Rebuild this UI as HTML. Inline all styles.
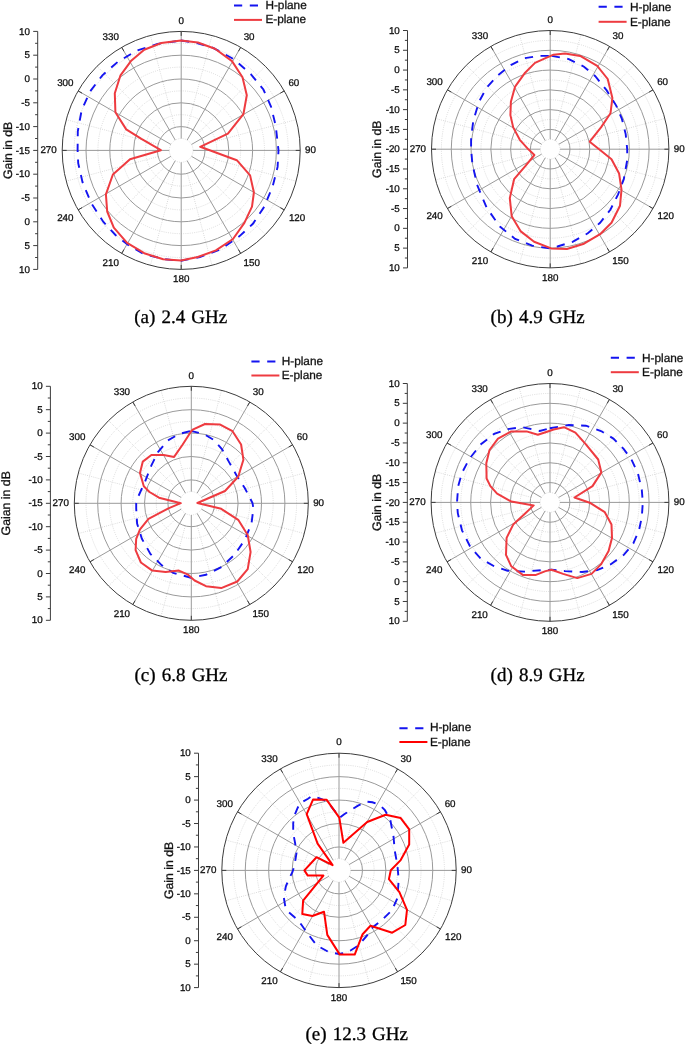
<!DOCTYPE html>
<html><head><meta charset="utf-8"><style>
html,body{margin:0;padding:0;background:#fff;}
svg{display:block;filter:blur(0.35px);text-rendering:geometricPrecision;}
.t{font-family:"Liberation Sans",sans-serif;font-size:9.8px;fill:#111111;stroke:#111111;stroke-width:0.3px;}
.yl{font-family:"Liberation Sans",sans-serif;font-size:12.3px;fill:#111111;stroke:#111111;stroke-width:0.3px;}
.lg{font-family:"Liberation Sans",sans-serif;font-size:11.8px;fill:#111111;stroke:#111111;stroke-width:0.3px;}
.cap{font-family:"Liberation Serif",serif;font-size:19px;fill:#000;stroke:#000;stroke-width:0.3px;word-spacing:1.4px;}
</style></head><body>
<svg width="685" height="1044" viewBox="0 0 685 1044" fill="none" stroke-width="1">
<g fill="none">
<circle cx="181.2" cy="150.4" r="11.9" stroke="#dadada" stroke-dasharray="1 1.2"/>
<circle cx="181.2" cy="150.4" r="35.7" stroke="#dadada" stroke-dasharray="1 1.2"/>
<circle cx="181.2" cy="150.4" r="59.5" stroke="#dadada" stroke-dasharray="1 1.2"/>
<circle cx="181.2" cy="150.4" r="83.3" stroke="#dadada" stroke-dasharray="1 1.2"/>
<circle cx="181.2" cy="150.4" r="107.1" stroke="#dadada" stroke-dasharray="1 1.2"/>
<line x1="187.36" y1="127.41" x2="212" y2="35.45" stroke="#dadada" stroke-dasharray="1 1.2"/>
<line x1="198.03" y1="133.57" x2="265.35" y2="66.25" stroke="#dadada" stroke-dasharray="1 1.2"/>
<line x1="204.19" y1="144.24" x2="296.15" y2="119.6" stroke="#dadada" stroke-dasharray="1 1.2"/>
<line x1="204.19" y1="156.56" x2="296.15" y2="181.2" stroke="#dadada" stroke-dasharray="1 1.2"/>
<line x1="198.03" y1="167.23" x2="265.35" y2="234.55" stroke="#dadada" stroke-dasharray="1 1.2"/>
<line x1="187.36" y1="173.39" x2="212" y2="265.35" stroke="#dadada" stroke-dasharray="1 1.2"/>
<line x1="175.04" y1="173.39" x2="150.4" y2="265.35" stroke="#dadada" stroke-dasharray="1 1.2"/>
<line x1="164.37" y1="167.23" x2="97.05" y2="234.55" stroke="#dadada" stroke-dasharray="1 1.2"/>
<line x1="158.21" y1="156.56" x2="66.25" y2="181.2" stroke="#dadada" stroke-dasharray="1 1.2"/>
<line x1="158.21" y1="144.24" x2="66.25" y2="119.6" stroke="#dadada" stroke-dasharray="1 1.2"/>
<line x1="164.37" y1="133.57" x2="97.05" y2="66.25" stroke="#dadada" stroke-dasharray="1 1.2"/>
<line x1="175.04" y1="127.41" x2="150.4" y2="35.45" stroke="#dadada" stroke-dasharray="1 1.2"/>
<circle cx="181.2" cy="150.4" r="23.8" stroke="#9a9a9a"/>
<circle cx="181.2" cy="150.4" r="47.6" stroke="#9a9a9a"/>
<circle cx="181.2" cy="150.4" r="71.4" stroke="#9a9a9a"/>
<circle cx="181.2" cy="150.4" r="95.2" stroke="#9a9a9a"/>
<line x1="181.2" y1="138.5" x2="181.2" y2="31.4" stroke="#9a9a9a"/>
<line x1="181.2" y1="35.9" x2="181.2" y2="31.4" stroke="#3c3c3c"/>
<line x1="187.15" y1="140.09" x2="240.7" y2="47.34" stroke="#9a9a9a"/>
<line x1="238.45" y1="51.24" x2="240.7" y2="47.34" stroke="#3c3c3c"/>
<line x1="191.51" y1="144.45" x2="284.26" y2="90.9" stroke="#9a9a9a"/>
<line x1="280.36" y1="93.15" x2="284.26" y2="90.9" stroke="#3c3c3c"/>
<line x1="193.1" y1="150.4" x2="300.2" y2="150.4" stroke="#9a9a9a"/>
<line x1="295.7" y1="150.4" x2="300.2" y2="150.4" stroke="#3c3c3c"/>
<line x1="191.51" y1="156.35" x2="284.26" y2="209.9" stroke="#9a9a9a"/>
<line x1="280.36" y1="207.65" x2="284.26" y2="209.9" stroke="#3c3c3c"/>
<line x1="187.15" y1="160.71" x2="240.7" y2="253.46" stroke="#9a9a9a"/>
<line x1="238.45" y1="249.56" x2="240.7" y2="253.46" stroke="#3c3c3c"/>
<line x1="181.2" y1="162.3" x2="181.2" y2="269.4" stroke="#9a9a9a"/>
<line x1="181.2" y1="264.9" x2="181.2" y2="269.4" stroke="#3c3c3c"/>
<line x1="175.25" y1="160.71" x2="121.7" y2="253.46" stroke="#9a9a9a"/>
<line x1="123.95" y1="249.56" x2="121.7" y2="253.46" stroke="#3c3c3c"/>
<line x1="170.89" y1="156.35" x2="78.14" y2="209.9" stroke="#9a9a9a"/>
<line x1="82.04" y1="207.65" x2="78.14" y2="209.9" stroke="#3c3c3c"/>
<line x1="169.3" y1="150.4" x2="62.2" y2="150.4" stroke="#9a9a9a"/>
<line x1="66.7" y1="150.4" x2="62.2" y2="150.4" stroke="#3c3c3c"/>
<line x1="170.89" y1="144.45" x2="78.14" y2="90.9" stroke="#9a9a9a"/>
<line x1="82.04" y1="93.15" x2="78.14" y2="90.9" stroke="#3c3c3c"/>
<line x1="175.25" y1="140.09" x2="121.7" y2="47.34" stroke="#9a9a9a"/>
<line x1="123.95" y1="51.24" x2="121.7" y2="47.34" stroke="#3c3c3c"/>
<circle cx="181.2" cy="150.4" r="119" stroke="#3c3c3c"/>
<text x="181.2" y="23.64" text-anchor="middle" class="t" fill="#111111">0</text>
<text x="249.1" y="40.38" text-anchor="middle" class="t" fill="#111111">30</text>
<text x="293.86" y="85.74" text-anchor="middle" class="t" fill="#111111">60</text>
<text x="310.5" y="152.94" text-anchor="middle" class="t" fill="#111111">90</text>
<text x="297.06" y="220.64" text-anchor="middle" class="t" fill="#111111">120</text>
<text x="251.7" y="265.9" text-anchor="middle" class="t" fill="#111111">150</text>
<text x="181.2" y="282.44" text-anchor="middle" class="t" fill="#111111">180</text>
<text x="110.8" y="265.9" text-anchor="middle" class="t" fill="#111111">210</text>
<text x="65.34" y="220.64" text-anchor="middle" class="t" fill="#111111">240</text>
<text x="48.6" y="152.94" text-anchor="middle" class="t" fill="#111111">270</text>
<text x="65.34" y="85.74" text-anchor="middle" class="t" fill="#111111">300</text>
<text x="110.8" y="40.38" text-anchor="middle" class="t" fill="#111111">330</text>
<line x1="37.7" y1="31.4" x2="37.7" y2="269.4" stroke="#3c3c3c"/>
<line x1="33.2" y1="31.4" x2="37.7" y2="31.4" stroke="#3c3c3c"/>
<text x="30" y="34.54" text-anchor="end" class="t" fill="#111111">10</text>
<line x1="35.1" y1="43.3" x2="37.7" y2="43.3" stroke="#3c3c3c"/>
<line x1="33.2" y1="55.2" x2="37.7" y2="55.2" stroke="#3c3c3c"/>
<text x="30" y="58.34" text-anchor="end" class="t" fill="#111111">5</text>
<line x1="35.1" y1="67.1" x2="37.7" y2="67.1" stroke="#3c3c3c"/>
<line x1="33.2" y1="79" x2="37.7" y2="79" stroke="#3c3c3c"/>
<text x="30" y="82.14" text-anchor="end" class="t" fill="#111111">0</text>
<line x1="35.1" y1="90.9" x2="37.7" y2="90.9" stroke="#3c3c3c"/>
<line x1="33.2" y1="102.8" x2="37.7" y2="102.8" stroke="#3c3c3c"/>
<text x="30" y="105.94" text-anchor="end" class="t" fill="#111111">-5</text>
<line x1="35.1" y1="114.7" x2="37.7" y2="114.7" stroke="#3c3c3c"/>
<line x1="33.2" y1="126.6" x2="37.7" y2="126.6" stroke="#3c3c3c"/>
<text x="30" y="129.74" text-anchor="end" class="t" fill="#111111">-10</text>
<line x1="35.1" y1="138.5" x2="37.7" y2="138.5" stroke="#3c3c3c"/>
<line x1="33.2" y1="150.4" x2="37.7" y2="150.4" stroke="#3c3c3c"/>
<text x="30" y="153.54" text-anchor="end" class="t" fill="#111111">-15</text>
<line x1="35.1" y1="162.3" x2="37.7" y2="162.3" stroke="#3c3c3c"/>
<line x1="33.2" y1="174.2" x2="37.7" y2="174.2" stroke="#3c3c3c"/>
<text x="30" y="177.34" text-anchor="end" class="t" fill="#111111">-10</text>
<line x1="35.1" y1="186.1" x2="37.7" y2="186.1" stroke="#3c3c3c"/>
<line x1="33.2" y1="198" x2="37.7" y2="198" stroke="#3c3c3c"/>
<text x="30" y="201.14" text-anchor="end" class="t" fill="#111111">-5</text>
<line x1="35.1" y1="209.9" x2="37.7" y2="209.9" stroke="#3c3c3c"/>
<line x1="33.2" y1="221.8" x2="37.7" y2="221.8" stroke="#3c3c3c"/>
<text x="30" y="224.94" text-anchor="end" class="t" fill="#111111">0</text>
<line x1="35.1" y1="233.7" x2="37.7" y2="233.7" stroke="#3c3c3c"/>
<line x1="33.2" y1="245.6" x2="37.7" y2="245.6" stroke="#3c3c3c"/>
<text x="30" y="248.74" text-anchor="end" class="t" fill="#111111">5</text>
<line x1="35.1" y1="257.5" x2="37.7" y2="257.5" stroke="#3c3c3c"/>
<line x1="33.2" y1="269.4" x2="37.7" y2="269.4" stroke="#3c3c3c"/>
<text x="30" y="272.54" text-anchor="end" class="t" fill="#111111">10</text>
<text transform="translate(11.5,150.4) rotate(-90)" text-anchor="middle" class="yl">Gain in dB</text>
<line x1="234" y1="5.5" x2="258" y2="5.5" stroke="#1414f0" stroke-width="2" stroke-dasharray="8.2 7.6"/>
<line x1="234" y1="19.9" x2="262" y2="19.9" stroke="#ee3b40" stroke-width="2"/>
<text x="265.4" y="9" class="lg">H-plane</text>
<text x="265.4" y="23.4" class="lg">E-plane</text>
<text x="134.2" y="323.2" class="cap">(a) 2.4 GHz</text>
<polygon points="181,40.5 197,43 213.1,47.8 233.9,59.2 251,74.3 263.4,89.5 271,106.6 275.7,125.6 278.5,150.3 277.6,166.9 272.8,185.9 264.3,206.7 252.9,223.8 239.6,236.1 220.7,249.4 199.8,257 181,260.8 165.1,259.3 144.2,254.2 129,245.6 115.7,235.2 103.4,221.9 91.1,202.9 82.5,182.1 78.2,163.1 77.6,150.4 77.8,131.3 81.6,110.4 90.1,91.4 102.4,75.3 117.6,62 136.6,50.6 157.5,44" stroke="#1414f0" stroke-width="1.9" stroke-dasharray="8.3 7.5" fill="none"/>
<polygon points="181,40.4 197.9,42.5 215,48.7 232,61.1 242.5,77.2 246.8,95.2 243.4,114.2 227.9,133.6 200.2,146.8 236.8,160.2 250.1,175.4 253.9,192.5 252,206.7 244.4,222.9 233,239 215.9,250.4 197.9,257 181,260.4 163.2,259.3 144.2,253.2 127.1,242.8 113.8,227.6 107.2,211.5 105.9,194.4 112.9,174.5 130,159.3 160.9,150.2 141.4,138.9 126.2,129.4 115.4,112.3 114.8,93.3 120.5,75.3 130.9,61.1 144.2,49.7 161.3,43" stroke="#ee3b40" stroke-width="2" fill="none" stroke-linejoin="round"/>
<circle cx="550.2" cy="149.2" r="9.89" stroke="#dadada" stroke-dasharray="1 1.2"/>
<circle cx="550.2" cy="149.2" r="29.68" stroke="#dadada" stroke-dasharray="1 1.2"/>
<circle cx="550.2" cy="149.2" r="49.46" stroke="#dadada" stroke-dasharray="1 1.2"/>
<circle cx="550.2" cy="149.2" r="69.24" stroke="#dadada" stroke-dasharray="1 1.2"/>
<circle cx="550.2" cy="149.2" r="89.03" stroke="#dadada" stroke-dasharray="1 1.2"/>
<circle cx="550.2" cy="149.2" r="108.81" stroke="#dadada" stroke-dasharray="1 1.2"/>
<line x1="555.32" y1="130.09" x2="580.92" y2="34.54" stroke="#dadada" stroke-dasharray="1 1.2"/>
<line x1="564.19" y1="135.21" x2="634.13" y2="65.27" stroke="#dadada" stroke-dasharray="1 1.2"/>
<line x1="569.31" y1="144.08" x2="664.86" y2="118.48" stroke="#dadada" stroke-dasharray="1 1.2"/>
<line x1="569.31" y1="154.32" x2="664.86" y2="179.92" stroke="#dadada" stroke-dasharray="1 1.2"/>
<line x1="564.19" y1="163.19" x2="634.13" y2="233.13" stroke="#dadada" stroke-dasharray="1 1.2"/>
<line x1="555.32" y1="168.31" x2="580.92" y2="263.86" stroke="#dadada" stroke-dasharray="1 1.2"/>
<line x1="545.08" y1="168.31" x2="519.48" y2="263.86" stroke="#dadada" stroke-dasharray="1 1.2"/>
<line x1="536.21" y1="163.19" x2="466.27" y2="233.13" stroke="#dadada" stroke-dasharray="1 1.2"/>
<line x1="531.09" y1="154.32" x2="435.54" y2="179.92" stroke="#dadada" stroke-dasharray="1 1.2"/>
<line x1="531.09" y1="144.08" x2="435.54" y2="118.48" stroke="#dadada" stroke-dasharray="1 1.2"/>
<line x1="536.21" y1="135.21" x2="466.27" y2="65.27" stroke="#dadada" stroke-dasharray="1 1.2"/>
<line x1="545.08" y1="130.09" x2="519.48" y2="34.54" stroke="#dadada" stroke-dasharray="1 1.2"/>
<circle cx="550.2" cy="149.2" r="19.78" stroke="#9a9a9a"/>
<circle cx="550.2" cy="149.2" r="39.57" stroke="#9a9a9a"/>
<circle cx="550.2" cy="149.2" r="59.35" stroke="#9a9a9a"/>
<circle cx="550.2" cy="149.2" r="79.13" stroke="#9a9a9a"/>
<circle cx="550.2" cy="149.2" r="98.92" stroke="#9a9a9a"/>
<line x1="550.2" y1="139.31" x2="550.2" y2="30.5" stroke="#9a9a9a"/>
<line x1="550.2" y1="35" x2="550.2" y2="30.5" stroke="#3c3c3c"/>
<line x1="555.15" y1="140.63" x2="609.55" y2="46.4" stroke="#9a9a9a"/>
<line x1="607.3" y1="50.3" x2="609.55" y2="46.4" stroke="#3c3c3c"/>
<line x1="558.77" y1="144.25" x2="653" y2="89.85" stroke="#9a9a9a"/>
<line x1="649.1" y1="92.1" x2="653" y2="89.85" stroke="#3c3c3c"/>
<line x1="560.09" y1="149.2" x2="668.9" y2="149.2" stroke="#9a9a9a"/>
<line x1="664.4" y1="149.2" x2="668.9" y2="149.2" stroke="#3c3c3c"/>
<line x1="558.77" y1="154.15" x2="653" y2="208.55" stroke="#9a9a9a"/>
<line x1="649.1" y1="206.3" x2="653" y2="208.55" stroke="#3c3c3c"/>
<line x1="555.15" y1="157.77" x2="609.55" y2="252" stroke="#9a9a9a"/>
<line x1="607.3" y1="248.1" x2="609.55" y2="252" stroke="#3c3c3c"/>
<line x1="550.2" y1="159.09" x2="550.2" y2="267.9" stroke="#9a9a9a"/>
<line x1="550.2" y1="263.4" x2="550.2" y2="267.9" stroke="#3c3c3c"/>
<line x1="545.25" y1="157.77" x2="490.85" y2="252" stroke="#9a9a9a"/>
<line x1="493.1" y1="248.1" x2="490.85" y2="252" stroke="#3c3c3c"/>
<line x1="541.63" y1="154.15" x2="447.4" y2="208.55" stroke="#9a9a9a"/>
<line x1="451.3" y1="206.3" x2="447.4" y2="208.55" stroke="#3c3c3c"/>
<line x1="540.31" y1="149.2" x2="431.5" y2="149.2" stroke="#9a9a9a"/>
<line x1="436" y1="149.2" x2="431.5" y2="149.2" stroke="#3c3c3c"/>
<line x1="541.63" y1="144.25" x2="447.4" y2="89.85" stroke="#9a9a9a"/>
<line x1="451.3" y1="92.1" x2="447.4" y2="89.85" stroke="#3c3c3c"/>
<line x1="545.25" y1="140.63" x2="490.85" y2="46.4" stroke="#9a9a9a"/>
<line x1="493.1" y1="50.3" x2="490.85" y2="46.4" stroke="#3c3c3c"/>
<circle cx="550.2" cy="149.2" r="118.7" stroke="#3c3c3c"/>
<text x="550.2" y="22.74" text-anchor="middle" class="t" fill="#111111">0</text>
<text x="617.95" y="39.44" text-anchor="middle" class="t" fill="#111111">30</text>
<text x="662.6" y="84.69" text-anchor="middle" class="t" fill="#111111">60</text>
<text x="679.2" y="151.74" text-anchor="middle" class="t" fill="#111111">90</text>
<text x="665.8" y="219.29" text-anchor="middle" class="t" fill="#111111">120</text>
<text x="620.55" y="264.44" text-anchor="middle" class="t" fill="#111111">150</text>
<text x="550.2" y="280.94" text-anchor="middle" class="t" fill="#111111">180</text>
<text x="479.95" y="264.44" text-anchor="middle" class="t" fill="#111111">210</text>
<text x="434.6" y="219.29" text-anchor="middle" class="t" fill="#111111">240</text>
<text x="417.9" y="151.74" text-anchor="middle" class="t" fill="#111111">270</text>
<text x="434.6" y="84.69" text-anchor="middle" class="t" fill="#111111">300</text>
<text x="479.95" y="39.44" text-anchor="middle" class="t" fill="#111111">330</text>
<line x1="407.5" y1="30.5" x2="407.5" y2="267.9" stroke="#3c3c3c"/>
<line x1="403" y1="30.5" x2="407.5" y2="30.5" stroke="#3c3c3c"/>
<text x="399.8" y="33.64" text-anchor="end" class="t" fill="#111111">10</text>
<line x1="404.9" y1="40.39" x2="407.5" y2="40.39" stroke="#3c3c3c"/>
<line x1="403" y1="50.28" x2="407.5" y2="50.28" stroke="#3c3c3c"/>
<text x="399.8" y="53.42" text-anchor="end" class="t" fill="#111111">5</text>
<line x1="404.9" y1="60.17" x2="407.5" y2="60.17" stroke="#3c3c3c"/>
<line x1="403" y1="70.07" x2="407.5" y2="70.07" stroke="#3c3c3c"/>
<text x="399.8" y="73.21" text-anchor="end" class="t" fill="#111111">0</text>
<line x1="404.9" y1="79.96" x2="407.5" y2="79.96" stroke="#3c3c3c"/>
<line x1="403" y1="89.85" x2="407.5" y2="89.85" stroke="#3c3c3c"/>
<text x="399.8" y="92.99" text-anchor="end" class="t" fill="#111111">-5</text>
<line x1="404.9" y1="99.74" x2="407.5" y2="99.74" stroke="#3c3c3c"/>
<line x1="403" y1="109.63" x2="407.5" y2="109.63" stroke="#3c3c3c"/>
<text x="399.8" y="112.77" text-anchor="end" class="t" fill="#111111">-10</text>
<line x1="404.9" y1="119.52" x2="407.5" y2="119.52" stroke="#3c3c3c"/>
<line x1="403" y1="129.42" x2="407.5" y2="129.42" stroke="#3c3c3c"/>
<text x="399.8" y="132.56" text-anchor="end" class="t" fill="#111111">-15</text>
<line x1="404.9" y1="139.31" x2="407.5" y2="139.31" stroke="#3c3c3c"/>
<line x1="403" y1="149.2" x2="407.5" y2="149.2" stroke="#3c3c3c"/>
<text x="399.8" y="152.34" text-anchor="end" class="t" fill="#111111">-20</text>
<line x1="404.9" y1="159.09" x2="407.5" y2="159.09" stroke="#3c3c3c"/>
<line x1="403" y1="168.98" x2="407.5" y2="168.98" stroke="#3c3c3c"/>
<text x="399.8" y="172.12" text-anchor="end" class="t" fill="#111111">-15</text>
<line x1="404.9" y1="178.88" x2="407.5" y2="178.88" stroke="#3c3c3c"/>
<line x1="403" y1="188.77" x2="407.5" y2="188.77" stroke="#3c3c3c"/>
<text x="399.8" y="191.91" text-anchor="end" class="t" fill="#111111">-10</text>
<line x1="404.9" y1="198.66" x2="407.5" y2="198.66" stroke="#3c3c3c"/>
<line x1="403" y1="208.55" x2="407.5" y2="208.55" stroke="#3c3c3c"/>
<text x="399.8" y="211.69" text-anchor="end" class="t" fill="#111111">-5</text>
<line x1="404.9" y1="218.44" x2="407.5" y2="218.44" stroke="#3c3c3c"/>
<line x1="403" y1="228.33" x2="407.5" y2="228.33" stroke="#3c3c3c"/>
<text x="399.8" y="231.47" text-anchor="end" class="t" fill="#111111">0</text>
<line x1="404.9" y1="238.23" x2="407.5" y2="238.23" stroke="#3c3c3c"/>
<line x1="403" y1="248.12" x2="407.5" y2="248.12" stroke="#3c3c3c"/>
<text x="399.8" y="251.26" text-anchor="end" class="t" fill="#111111">5</text>
<line x1="404.9" y1="258.01" x2="407.5" y2="258.01" stroke="#3c3c3c"/>
<line x1="403" y1="267.9" x2="407.5" y2="267.9" stroke="#3c3c3c"/>
<text x="399.8" y="271.04" text-anchor="end" class="t" fill="#111111">10</text>
<text transform="translate(380.8,149.2) rotate(-90)" text-anchor="middle" class="yl">Gain in dB</text>
<line x1="598.6" y1="6.7" x2="622.6" y2="6.7" stroke="#1414f0" stroke-width="2" stroke-dasharray="8.2 7.6"/>
<line x1="598.6" y1="21.8" x2="626.6" y2="21.8" stroke="#ee3b40" stroke-width="2"/>
<text x="630" y="11.1" class="lg">H-plane</text>
<text x="630" y="25.7" class="lg">E-plane</text>
<text x="490.6" y="323.3" class="cap">(b) 4.9 GHz</text>
<polygon points="551.7,55.9 568.8,59.1 584,66.7 595.3,76.2 606.7,90.4 616.2,105.6 621.9,118.9 625.7,134.1 627.2,149.3 627.2,160.2 623.8,179.2 618.1,194.3 610.5,209.5 600.1,222.8 587.8,233.3 572.6,241.8 557.4,246.5 549.3,248.4 532.2,245.6 515.1,238.9 499.9,226.6 486.6,207.6 477.1,184.9 472.4,164 471.1,149.3 471.1,137.9 473.3,120.8 479,101.8 486.6,87.6 498,75.2 511.3,64.8 524.6,58.2 539.8,55.9" stroke="#1414f0" stroke-width="1.9" stroke-dasharray="8.3 7.5" fill="none"/>
<polygon points="553.6,54.7 565,53.4 580.2,55.9 597.2,65.8 607.7,79 612.4,98 610.5,113.2 601,127.4 589.7,141.7 601,150.7 611.5,159.2 619.1,173.5 621.5,189.6 620,205.7 611.5,222.8 600.1,234.2 584,243.7 566.9,249 551.2,248.4 534.1,241.8 520.8,231.4 511.7,216.2 509.8,198.1 514.1,179.2 525.5,165.9 534.4,155 528.4,149.3 519.8,139.8 513.2,127.4 510.4,115.1 510.9,101.8 515.1,86.6 524.6,73.3 535,62.9 545.5,58.2" stroke="#ee3b40" stroke-width="2" fill="none" stroke-linejoin="round"/>
<circle cx="191.3" cy="503.3" r="11.7" stroke="#dadada" stroke-dasharray="1 1.2"/>
<circle cx="191.3" cy="503.3" r="35.1" stroke="#dadada" stroke-dasharray="1 1.2"/>
<circle cx="191.3" cy="503.3" r="58.5" stroke="#dadada" stroke-dasharray="1 1.2"/>
<circle cx="191.3" cy="503.3" r="81.9" stroke="#dadada" stroke-dasharray="1 1.2"/>
<circle cx="191.3" cy="503.3" r="105.3" stroke="#dadada" stroke-dasharray="1 1.2"/>
<line x1="197.36" y1="480.7" x2="221.58" y2="390.29" stroke="#dadada" stroke-dasharray="1 1.2"/>
<line x1="207.85" y1="486.75" x2="274.03" y2="420.57" stroke="#dadada" stroke-dasharray="1 1.2"/>
<line x1="213.9" y1="497.24" x2="304.31" y2="473.02" stroke="#dadada" stroke-dasharray="1 1.2"/>
<line x1="213.9" y1="509.36" x2="304.31" y2="533.58" stroke="#dadada" stroke-dasharray="1 1.2"/>
<line x1="207.85" y1="519.85" x2="274.03" y2="586.03" stroke="#dadada" stroke-dasharray="1 1.2"/>
<line x1="197.36" y1="525.9" x2="221.58" y2="616.31" stroke="#dadada" stroke-dasharray="1 1.2"/>
<line x1="185.24" y1="525.9" x2="161.02" y2="616.31" stroke="#dadada" stroke-dasharray="1 1.2"/>
<line x1="174.75" y1="519.85" x2="108.57" y2="586.03" stroke="#dadada" stroke-dasharray="1 1.2"/>
<line x1="168.7" y1="509.36" x2="78.29" y2="533.58" stroke="#dadada" stroke-dasharray="1 1.2"/>
<line x1="168.7" y1="497.24" x2="78.29" y2="473.02" stroke="#dadada" stroke-dasharray="1 1.2"/>
<line x1="174.75" y1="486.75" x2="108.57" y2="420.57" stroke="#dadada" stroke-dasharray="1 1.2"/>
<line x1="185.24" y1="480.7" x2="161.02" y2="390.29" stroke="#dadada" stroke-dasharray="1 1.2"/>
<circle cx="191.3" cy="503.3" r="23.4" stroke="#9a9a9a"/>
<circle cx="191.3" cy="503.3" r="46.8" stroke="#9a9a9a"/>
<circle cx="191.3" cy="503.3" r="70.2" stroke="#9a9a9a"/>
<circle cx="191.3" cy="503.3" r="93.6" stroke="#9a9a9a"/>
<line x1="191.3" y1="491.6" x2="191.3" y2="386.3" stroke="#9a9a9a"/>
<line x1="191.3" y1="390.8" x2="191.3" y2="386.3" stroke="#3c3c3c"/>
<line x1="197.15" y1="493.17" x2="249.8" y2="401.98" stroke="#9a9a9a"/>
<line x1="247.55" y1="405.87" x2="249.8" y2="401.98" stroke="#3c3c3c"/>
<line x1="201.43" y1="497.45" x2="292.62" y2="444.8" stroke="#9a9a9a"/>
<line x1="288.73" y1="447.05" x2="292.62" y2="444.8" stroke="#3c3c3c"/>
<line x1="203" y1="503.3" x2="308.3" y2="503.3" stroke="#9a9a9a"/>
<line x1="303.8" y1="503.3" x2="308.3" y2="503.3" stroke="#3c3c3c"/>
<line x1="201.43" y1="509.15" x2="292.62" y2="561.8" stroke="#9a9a9a"/>
<line x1="288.73" y1="559.55" x2="292.62" y2="561.8" stroke="#3c3c3c"/>
<line x1="197.15" y1="513.43" x2="249.8" y2="604.62" stroke="#9a9a9a"/>
<line x1="247.55" y1="600.73" x2="249.8" y2="604.62" stroke="#3c3c3c"/>
<line x1="191.3" y1="515" x2="191.3" y2="620.3" stroke="#9a9a9a"/>
<line x1="191.3" y1="615.8" x2="191.3" y2="620.3" stroke="#3c3c3c"/>
<line x1="185.45" y1="513.43" x2="132.8" y2="604.62" stroke="#9a9a9a"/>
<line x1="135.05" y1="600.73" x2="132.8" y2="604.62" stroke="#3c3c3c"/>
<line x1="181.17" y1="509.15" x2="89.98" y2="561.8" stroke="#9a9a9a"/>
<line x1="93.87" y1="559.55" x2="89.98" y2="561.8" stroke="#3c3c3c"/>
<line x1="179.6" y1="503.3" x2="74.3" y2="503.3" stroke="#9a9a9a"/>
<line x1="78.8" y1="503.3" x2="74.3" y2="503.3" stroke="#3c3c3c"/>
<line x1="181.17" y1="497.45" x2="89.98" y2="444.8" stroke="#9a9a9a"/>
<line x1="93.87" y1="447.05" x2="89.98" y2="444.8" stroke="#3c3c3c"/>
<line x1="185.45" y1="493.17" x2="132.8" y2="401.98" stroke="#9a9a9a"/>
<line x1="135.05" y1="405.87" x2="132.8" y2="401.98" stroke="#3c3c3c"/>
<circle cx="191.3" cy="503.3" r="117" stroke="#3c3c3c"/>
<text x="191.3" y="378.54" text-anchor="middle" class="t" fill="#111111">0</text>
<text x="258.2" y="395.02" text-anchor="middle" class="t" fill="#111111">30</text>
<text x="302.22" y="439.64" text-anchor="middle" class="t" fill="#111111">60</text>
<text x="318.6" y="505.84" text-anchor="middle" class="t" fill="#111111">90</text>
<text x="305.42" y="572.54" text-anchor="middle" class="t" fill="#111111">120</text>
<text x="260.8" y="617.06" text-anchor="middle" class="t" fill="#111111">150</text>
<text x="191.3" y="633.34" text-anchor="middle" class="t" fill="#111111">180</text>
<text x="121.9" y="617.06" text-anchor="middle" class="t" fill="#111111">210</text>
<text x="77.18" y="572.54" text-anchor="middle" class="t" fill="#111111">240</text>
<text x="60.7" y="505.84" text-anchor="middle" class="t" fill="#111111">270</text>
<text x="77.18" y="439.64" text-anchor="middle" class="t" fill="#111111">300</text>
<text x="121.9" y="395.02" text-anchor="middle" class="t" fill="#111111">330</text>
<line x1="50.4" y1="386.3" x2="50.4" y2="620.3" stroke="#3c3c3c"/>
<line x1="45.9" y1="386.3" x2="50.4" y2="386.3" stroke="#3c3c3c"/>
<text x="42.7" y="389.44" text-anchor="end" class="t" fill="#111111">10</text>
<line x1="47.8" y1="398" x2="50.4" y2="398" stroke="#3c3c3c"/>
<line x1="45.9" y1="409.7" x2="50.4" y2="409.7" stroke="#3c3c3c"/>
<text x="42.7" y="412.84" text-anchor="end" class="t" fill="#111111">5</text>
<line x1="47.8" y1="421.4" x2="50.4" y2="421.4" stroke="#3c3c3c"/>
<line x1="45.9" y1="433.1" x2="50.4" y2="433.1" stroke="#3c3c3c"/>
<text x="42.7" y="436.24" text-anchor="end" class="t" fill="#111111">0</text>
<line x1="47.8" y1="444.8" x2="50.4" y2="444.8" stroke="#3c3c3c"/>
<line x1="45.9" y1="456.5" x2="50.4" y2="456.5" stroke="#3c3c3c"/>
<text x="42.7" y="459.64" text-anchor="end" class="t" fill="#111111">-5</text>
<line x1="47.8" y1="468.2" x2="50.4" y2="468.2" stroke="#3c3c3c"/>
<line x1="45.9" y1="479.9" x2="50.4" y2="479.9" stroke="#3c3c3c"/>
<text x="42.7" y="483.04" text-anchor="end" class="t" fill="#111111">-10</text>
<line x1="47.8" y1="491.6" x2="50.4" y2="491.6" stroke="#3c3c3c"/>
<line x1="45.9" y1="503.3" x2="50.4" y2="503.3" stroke="#3c3c3c"/>
<text x="42.7" y="506.44" text-anchor="end" class="t" fill="#111111">-15</text>
<line x1="47.8" y1="515" x2="50.4" y2="515" stroke="#3c3c3c"/>
<line x1="45.9" y1="526.7" x2="50.4" y2="526.7" stroke="#3c3c3c"/>
<text x="42.7" y="529.84" text-anchor="end" class="t" fill="#111111">-10</text>
<line x1="47.8" y1="538.4" x2="50.4" y2="538.4" stroke="#3c3c3c"/>
<line x1="45.9" y1="550.1" x2="50.4" y2="550.1" stroke="#3c3c3c"/>
<text x="42.7" y="553.24" text-anchor="end" class="t" fill="#111111">-5</text>
<line x1="47.8" y1="561.8" x2="50.4" y2="561.8" stroke="#3c3c3c"/>
<line x1="45.9" y1="573.5" x2="50.4" y2="573.5" stroke="#3c3c3c"/>
<text x="42.7" y="576.64" text-anchor="end" class="t" fill="#111111">0</text>
<line x1="47.8" y1="585.2" x2="50.4" y2="585.2" stroke="#3c3c3c"/>
<line x1="45.9" y1="596.9" x2="50.4" y2="596.9" stroke="#3c3c3c"/>
<text x="42.7" y="600.04" text-anchor="end" class="t" fill="#111111">5</text>
<line x1="47.8" y1="608.6" x2="50.4" y2="608.6" stroke="#3c3c3c"/>
<line x1="45.9" y1="620.3" x2="50.4" y2="620.3" stroke="#3c3c3c"/>
<text x="42.7" y="623.44" text-anchor="end" class="t" fill="#111111">10</text>
<text transform="translate(10,503.3) rotate(-90)" text-anchor="middle" class="yl">Gaian in dB</text>
<line x1="251.4" y1="361.6" x2="275.4" y2="361.6" stroke="#1414f0" stroke-width="2" stroke-dasharray="8.2 7.6"/>
<line x1="251.4" y1="375.5" x2="279.4" y2="375.5" stroke="#ee3b40" stroke-width="2"/>
<text x="281.7" y="364.8" class="lg">H-plane</text>
<text x="281.7" y="379" class="lg">E-plane</text>
<text x="134.5" y="681.3" class="cap">(c) 6.8 GHz</text>
<polygon points="190.8,430.9 204.1,434.1 213.6,439.8 222.1,449.3 228.8,461.6 236.3,474.9 244.9,488.2 252.5,503 253.4,508.4 251.5,523.6 244.9,539.7 234.4,554.9 221.2,567.2 206,574.8 190.8,577.7 173.2,572.9 161.8,565.3 150.4,553.9 141.9,538.8 137.1,523.6 136.2,508.4 136.2,503.4 138.5,496 144.7,482.5 151.4,465.4 158,452.1 167.5,440.7 178.9,434.1" stroke="#1414f0" stroke-width="1.9" stroke-dasharray="8.3 7.5" fill="none"/>
<polygon points="192.7,429.7 205,424 220.2,424.6 232.5,431.2 241.1,444.5 243.4,459.7 238.2,476.8 225,491 197.4,503 221.2,508.8 238.2,519.8 247.7,535 250.6,552 247.7,569.1 237.3,581.5 221.2,588.1 206,586.2 194.6,580.5 187.5,574.3 178.9,570.6 165.6,572 152.3,570.6 140.9,562.5 135.6,550.1 136.2,538.8 140,529.3 148.5,518.8 168.4,508.4 180.8,503.2 159,497.7 149.5,492 143.8,486.3 140,473 142.8,461.6 151.4,455 163.7,455 174.1,456.9 182.7,444.5 191.2,431.2" stroke="#ee3b40" stroke-width="2" fill="none" stroke-linejoin="round"/>
<circle cx="550" cy="502.4" r="9.91" stroke="#dadada" stroke-dasharray="1 1.2"/>
<circle cx="550" cy="502.4" r="29.73" stroke="#dadada" stroke-dasharray="1 1.2"/>
<circle cx="550" cy="502.4" r="49.54" stroke="#dadada" stroke-dasharray="1 1.2"/>
<circle cx="550" cy="502.4" r="69.36" stroke="#dadada" stroke-dasharray="1 1.2"/>
<circle cx="550" cy="502.4" r="89.17" stroke="#dadada" stroke-dasharray="1 1.2"/>
<circle cx="550" cy="502.4" r="108.99" stroke="#dadada" stroke-dasharray="1 1.2"/>
<line x1="555.13" y1="483.26" x2="580.77" y2="387.55" stroke="#dadada" stroke-dasharray="1 1.2"/>
<line x1="564.01" y1="488.39" x2="634.07" y2="418.33" stroke="#dadada" stroke-dasharray="1 1.2"/>
<line x1="569.14" y1="497.27" x2="664.85" y2="471.63" stroke="#dadada" stroke-dasharray="1 1.2"/>
<line x1="569.14" y1="507.53" x2="664.85" y2="533.17" stroke="#dadada" stroke-dasharray="1 1.2"/>
<line x1="564.01" y1="516.41" x2="634.07" y2="586.47" stroke="#dadada" stroke-dasharray="1 1.2"/>
<line x1="555.13" y1="521.54" x2="580.77" y2="617.25" stroke="#dadada" stroke-dasharray="1 1.2"/>
<line x1="544.87" y1="521.54" x2="519.23" y2="617.25" stroke="#dadada" stroke-dasharray="1 1.2"/>
<line x1="535.99" y1="516.41" x2="465.93" y2="586.47" stroke="#dadada" stroke-dasharray="1 1.2"/>
<line x1="530.86" y1="507.53" x2="435.15" y2="533.17" stroke="#dadada" stroke-dasharray="1 1.2"/>
<line x1="530.86" y1="497.27" x2="435.15" y2="471.63" stroke="#dadada" stroke-dasharray="1 1.2"/>
<line x1="535.99" y1="488.39" x2="465.93" y2="418.33" stroke="#dadada" stroke-dasharray="1 1.2"/>
<line x1="544.87" y1="483.26" x2="519.23" y2="387.55" stroke="#dadada" stroke-dasharray="1 1.2"/>
<circle cx="550" cy="502.4" r="19.82" stroke="#9a9a9a"/>
<circle cx="550" cy="502.4" r="39.63" stroke="#9a9a9a"/>
<circle cx="550" cy="502.4" r="59.45" stroke="#9a9a9a"/>
<circle cx="550" cy="502.4" r="79.27" stroke="#9a9a9a"/>
<circle cx="550" cy="502.4" r="99.08" stroke="#9a9a9a"/>
<line x1="550" y1="492.49" x2="550" y2="383.5" stroke="#9a9a9a"/>
<line x1="550" y1="388" x2="550" y2="383.5" stroke="#3c3c3c"/>
<line x1="554.95" y1="493.82" x2="609.45" y2="399.43" stroke="#9a9a9a"/>
<line x1="607.2" y1="403.33" x2="609.45" y2="399.43" stroke="#3c3c3c"/>
<line x1="558.58" y1="497.45" x2="652.97" y2="442.95" stroke="#9a9a9a"/>
<line x1="649.07" y1="445.2" x2="652.97" y2="442.95" stroke="#3c3c3c"/>
<line x1="559.91" y1="502.4" x2="668.9" y2="502.4" stroke="#9a9a9a"/>
<line x1="664.4" y1="502.4" x2="668.9" y2="502.4" stroke="#3c3c3c"/>
<line x1="558.58" y1="507.35" x2="652.97" y2="561.85" stroke="#9a9a9a"/>
<line x1="649.07" y1="559.6" x2="652.97" y2="561.85" stroke="#3c3c3c"/>
<line x1="554.95" y1="510.98" x2="609.45" y2="605.37" stroke="#9a9a9a"/>
<line x1="607.2" y1="601.47" x2="609.45" y2="605.37" stroke="#3c3c3c"/>
<line x1="550" y1="512.31" x2="550" y2="621.3" stroke="#9a9a9a"/>
<line x1="550" y1="616.8" x2="550" y2="621.3" stroke="#3c3c3c"/>
<line x1="545.05" y1="510.98" x2="490.55" y2="605.37" stroke="#9a9a9a"/>
<line x1="492.8" y1="601.47" x2="490.55" y2="605.37" stroke="#3c3c3c"/>
<line x1="541.42" y1="507.35" x2="447.03" y2="561.85" stroke="#9a9a9a"/>
<line x1="450.93" y1="559.6" x2="447.03" y2="561.85" stroke="#3c3c3c"/>
<line x1="540.09" y1="502.4" x2="431.1" y2="502.4" stroke="#9a9a9a"/>
<line x1="435.6" y1="502.4" x2="431.1" y2="502.4" stroke="#3c3c3c"/>
<line x1="541.42" y1="497.45" x2="447.03" y2="442.95" stroke="#9a9a9a"/>
<line x1="450.93" y1="445.2" x2="447.03" y2="442.95" stroke="#3c3c3c"/>
<line x1="545.05" y1="493.82" x2="490.55" y2="399.43" stroke="#9a9a9a"/>
<line x1="492.8" y1="403.33" x2="490.55" y2="399.43" stroke="#3c3c3c"/>
<circle cx="550" cy="502.4" r="118.9" stroke="#3c3c3c"/>
<text x="550" y="375.74" text-anchor="middle" class="t" fill="#111111">0</text>
<text x="617.85" y="392.47" text-anchor="middle" class="t" fill="#111111">30</text>
<text x="662.57" y="437.79" text-anchor="middle" class="t" fill="#111111">60</text>
<text x="679.2" y="504.94" text-anchor="middle" class="t" fill="#111111">90</text>
<text x="665.77" y="572.59" text-anchor="middle" class="t" fill="#111111">120</text>
<text x="620.45" y="617.81" text-anchor="middle" class="t" fill="#111111">150</text>
<text x="550" y="634.34" text-anchor="middle" class="t" fill="#111111">180</text>
<text x="479.65" y="617.81" text-anchor="middle" class="t" fill="#111111">210</text>
<text x="434.23" y="572.59" text-anchor="middle" class="t" fill="#111111">240</text>
<text x="417.5" y="504.94" text-anchor="middle" class="t" fill="#111111">270</text>
<text x="434.23" y="437.79" text-anchor="middle" class="t" fill="#111111">300</text>
<text x="479.65" y="392.47" text-anchor="middle" class="t" fill="#111111">330</text>
<line x1="407.3" y1="383.5" x2="407.3" y2="621.3" stroke="#3c3c3c"/>
<line x1="402.8" y1="383.5" x2="407.3" y2="383.5" stroke="#3c3c3c"/>
<text x="399.6" y="386.64" text-anchor="end" class="t" fill="#111111">10</text>
<line x1="404.7" y1="393.41" x2="407.3" y2="393.41" stroke="#3c3c3c"/>
<line x1="402.8" y1="403.32" x2="407.3" y2="403.32" stroke="#3c3c3c"/>
<text x="399.6" y="406.46" text-anchor="end" class="t" fill="#111111">5</text>
<line x1="404.7" y1="413.23" x2="407.3" y2="413.23" stroke="#3c3c3c"/>
<line x1="402.8" y1="423.13" x2="407.3" y2="423.13" stroke="#3c3c3c"/>
<text x="399.6" y="426.27" text-anchor="end" class="t" fill="#111111">0</text>
<line x1="404.7" y1="433.04" x2="407.3" y2="433.04" stroke="#3c3c3c"/>
<line x1="402.8" y1="442.95" x2="407.3" y2="442.95" stroke="#3c3c3c"/>
<text x="399.6" y="446.09" text-anchor="end" class="t" fill="#111111">-5</text>
<line x1="404.7" y1="452.86" x2="407.3" y2="452.86" stroke="#3c3c3c"/>
<line x1="402.8" y1="462.77" x2="407.3" y2="462.77" stroke="#3c3c3c"/>
<text x="399.6" y="465.91" text-anchor="end" class="t" fill="#111111">-10</text>
<line x1="404.7" y1="472.68" x2="407.3" y2="472.68" stroke="#3c3c3c"/>
<line x1="402.8" y1="482.58" x2="407.3" y2="482.58" stroke="#3c3c3c"/>
<text x="399.6" y="485.72" text-anchor="end" class="t" fill="#111111">-15</text>
<line x1="404.7" y1="492.49" x2="407.3" y2="492.49" stroke="#3c3c3c"/>
<line x1="402.8" y1="502.4" x2="407.3" y2="502.4" stroke="#3c3c3c"/>
<text x="399.6" y="505.54" text-anchor="end" class="t" fill="#111111">-20</text>
<line x1="404.7" y1="512.31" x2="407.3" y2="512.31" stroke="#3c3c3c"/>
<line x1="402.8" y1="522.22" x2="407.3" y2="522.22" stroke="#3c3c3c"/>
<text x="399.6" y="525.36" text-anchor="end" class="t" fill="#111111">-15</text>
<line x1="404.7" y1="532.12" x2="407.3" y2="532.12" stroke="#3c3c3c"/>
<line x1="402.8" y1="542.03" x2="407.3" y2="542.03" stroke="#3c3c3c"/>
<text x="399.6" y="545.17" text-anchor="end" class="t" fill="#111111">-10</text>
<line x1="404.7" y1="551.94" x2="407.3" y2="551.94" stroke="#3c3c3c"/>
<line x1="402.8" y1="561.85" x2="407.3" y2="561.85" stroke="#3c3c3c"/>
<text x="399.6" y="564.99" text-anchor="end" class="t" fill="#111111">-5</text>
<line x1="404.7" y1="571.76" x2="407.3" y2="571.76" stroke="#3c3c3c"/>
<line x1="402.8" y1="581.67" x2="407.3" y2="581.67" stroke="#3c3c3c"/>
<text x="399.6" y="584.81" text-anchor="end" class="t" fill="#111111">0</text>
<line x1="404.7" y1="591.58" x2="407.3" y2="591.58" stroke="#3c3c3c"/>
<line x1="402.8" y1="601.48" x2="407.3" y2="601.48" stroke="#3c3c3c"/>
<text x="399.6" y="604.62" text-anchor="end" class="t" fill="#111111">5</text>
<line x1="404.7" y1="611.39" x2="407.3" y2="611.39" stroke="#3c3c3c"/>
<line x1="402.8" y1="621.3" x2="407.3" y2="621.3" stroke="#3c3c3c"/>
<text x="399.6" y="624.44" text-anchor="end" class="t" fill="#111111">10</text>
<text transform="translate(381.1,502.4) rotate(-90)" text-anchor="middle" class="yl">Gain in dB</text>
<line x1="610.8" y1="357.8" x2="634.8" y2="357.8" stroke="#1414f0" stroke-width="2" stroke-dasharray="8.2 7.6"/>
<line x1="610.8" y1="372.2" x2="638.8" y2="372.2" stroke="#ee3b40" stroke-width="2"/>
<text x="642.1" y="361.5" class="lg">H-plane</text>
<text x="642.1" y="376" class="lg">E-plane</text>
<text x="490.6" y="680.6" class="cap">(d) 8.9 GHz</text>
<polygon points="549.8,428.2 568.8,425 585.9,425.7 601,431 613.4,438.6 623.8,449.1 631.4,459.5 638,473.7 641.8,489.9 642.8,502.5 641.8,517 639,530.3 633.3,543.5 623.8,554.9 610.5,564.4 597.2,570.1 582.1,572 565,571.1 551.7,569.7 541.7,570.1 524.6,571.6 507.5,570.7 494.2,566.3 480.9,558.7 470.5,547.3 462,530.3 457.8,513.2 457,502.4 458.2,486.1 462,472.8 469.5,458.6 480.9,444.3 494.2,433.9 507.5,429.1 522.7,427.2 539.8,431" stroke="#1414f0" stroke-width="1.9" stroke-dasharray="8.3 7.5" fill="none"/>
<polygon points="553.6,429.5 564,427.2 575.4,432.6 585.9,444.3 598.2,459.5 601.4,472.4 592.5,486.1 574.5,497.5 589.7,502.7 604.8,512.2 611.5,524.6 612,537.9 608.6,551.1 601,564.4 591.5,573.9 577.3,578.1 563.1,573.9 551.5,569.7 545.5,571.1 536,574.9 522.7,574.9 511.3,566.3 506,554.9 506.6,537.9 513.2,524.6 524.6,514.1 533.7,505.4 511.3,501.6 497.1,493.7 490.4,486.1 486.6,478.5 486.3,463.3 489.5,450 498,438.6 511.3,431.4 526.5,431.4 537.9,434.8 549.3,431" stroke="#ee3b40" stroke-width="2" fill="none" stroke-linejoin="round"/>
<circle cx="339" cy="870.4" r="11.72" stroke="#dadada" stroke-dasharray="1 1.2"/>
<circle cx="339" cy="870.4" r="35.16" stroke="#dadada" stroke-dasharray="1 1.2"/>
<circle cx="339" cy="870.4" r="58.6" stroke="#dadada" stroke-dasharray="1 1.2"/>
<circle cx="339" cy="870.4" r="82.04" stroke="#dadada" stroke-dasharray="1 1.2"/>
<circle cx="339" cy="870.4" r="105.48" stroke="#dadada" stroke-dasharray="1 1.2"/>
<line x1="345.07" y1="847.76" x2="369.33" y2="757.19" stroke="#dadada" stroke-dasharray="1 1.2"/>
<line x1="355.57" y1="853.83" x2="421.87" y2="787.53" stroke="#dadada" stroke-dasharray="1 1.2"/>
<line x1="361.64" y1="864.33" x2="452.21" y2="840.07" stroke="#dadada" stroke-dasharray="1 1.2"/>
<line x1="361.64" y1="876.47" x2="452.21" y2="900.73" stroke="#dadada" stroke-dasharray="1 1.2"/>
<line x1="355.57" y1="886.97" x2="421.87" y2="953.27" stroke="#dadada" stroke-dasharray="1 1.2"/>
<line x1="345.07" y1="893.04" x2="369.33" y2="983.61" stroke="#dadada" stroke-dasharray="1 1.2"/>
<line x1="332.93" y1="893.04" x2="308.67" y2="983.61" stroke="#dadada" stroke-dasharray="1 1.2"/>
<line x1="322.43" y1="886.97" x2="256.13" y2="953.27" stroke="#dadada" stroke-dasharray="1 1.2"/>
<line x1="316.36" y1="876.47" x2="225.79" y2="900.73" stroke="#dadada" stroke-dasharray="1 1.2"/>
<line x1="316.36" y1="864.33" x2="225.79" y2="840.07" stroke="#dadada" stroke-dasharray="1 1.2"/>
<line x1="322.43" y1="853.83" x2="256.13" y2="787.53" stroke="#dadada" stroke-dasharray="1 1.2"/>
<line x1="332.93" y1="847.76" x2="308.67" y2="757.19" stroke="#dadada" stroke-dasharray="1 1.2"/>
<circle cx="339" cy="870.4" r="23.44" stroke="#9a9a9a"/>
<circle cx="339" cy="870.4" r="46.88" stroke="#9a9a9a"/>
<circle cx="339" cy="870.4" r="70.32" stroke="#9a9a9a"/>
<circle cx="339" cy="870.4" r="93.76" stroke="#9a9a9a"/>
<line x1="339" y1="858.68" x2="339" y2="753.2" stroke="#9a9a9a"/>
<line x1="339" y1="757.7" x2="339" y2="753.2" stroke="#3c3c3c"/>
<line x1="344.86" y1="860.25" x2="397.6" y2="768.9" stroke="#9a9a9a"/>
<line x1="395.35" y1="772.8" x2="397.6" y2="768.9" stroke="#3c3c3c"/>
<line x1="349.15" y1="864.54" x2="440.5" y2="811.8" stroke="#9a9a9a"/>
<line x1="436.6" y1="814.05" x2="440.5" y2="811.8" stroke="#3c3c3c"/>
<line x1="350.72" y1="870.4" x2="456.2" y2="870.4" stroke="#9a9a9a"/>
<line x1="451.7" y1="870.4" x2="456.2" y2="870.4" stroke="#3c3c3c"/>
<line x1="349.15" y1="876.26" x2="440.5" y2="929" stroke="#9a9a9a"/>
<line x1="436.6" y1="926.75" x2="440.5" y2="929" stroke="#3c3c3c"/>
<line x1="344.86" y1="880.55" x2="397.6" y2="971.9" stroke="#9a9a9a"/>
<line x1="395.35" y1="968" x2="397.6" y2="971.9" stroke="#3c3c3c"/>
<line x1="339" y1="882.12" x2="339" y2="987.6" stroke="#9a9a9a"/>
<line x1="339" y1="983.1" x2="339" y2="987.6" stroke="#3c3c3c"/>
<line x1="333.14" y1="880.55" x2="280.4" y2="971.9" stroke="#9a9a9a"/>
<line x1="282.65" y1="968" x2="280.4" y2="971.9" stroke="#3c3c3c"/>
<line x1="328.85" y1="876.26" x2="237.5" y2="929" stroke="#9a9a9a"/>
<line x1="241.4" y1="926.75" x2="237.5" y2="929" stroke="#3c3c3c"/>
<line x1="327.28" y1="870.4" x2="221.8" y2="870.4" stroke="#9a9a9a"/>
<line x1="226.3" y1="870.4" x2="221.8" y2="870.4" stroke="#3c3c3c"/>
<line x1="328.85" y1="864.54" x2="237.5" y2="811.8" stroke="#9a9a9a"/>
<line x1="241.4" y1="814.05" x2="237.5" y2="811.8" stroke="#3c3c3c"/>
<line x1="333.14" y1="860.25" x2="280.4" y2="768.9" stroke="#9a9a9a"/>
<line x1="282.65" y1="772.8" x2="280.4" y2="768.9" stroke="#3c3c3c"/>
<circle cx="339" cy="870.4" r="117.2" stroke="#3c3c3c"/>
<text x="339" y="745.44" text-anchor="middle" class="t" fill="#111111">0</text>
<text x="406" y="761.94" text-anchor="middle" class="t" fill="#111111">30</text>
<text x="450.1" y="806.64" text-anchor="middle" class="t" fill="#111111">60</text>
<text x="466.5" y="872.94" text-anchor="middle" class="t" fill="#111111">90</text>
<text x="453.3" y="939.74" text-anchor="middle" class="t" fill="#111111">120</text>
<text x="408.6" y="984.34" text-anchor="middle" class="t" fill="#111111">150</text>
<text x="339" y="1000.64" text-anchor="middle" class="t" fill="#111111">180</text>
<text x="269.5" y="984.34" text-anchor="middle" class="t" fill="#111111">210</text>
<text x="224.7" y="939.74" text-anchor="middle" class="t" fill="#111111">240</text>
<text x="208.2" y="872.94" text-anchor="middle" class="t" fill="#111111">270</text>
<text x="224.7" y="806.64" text-anchor="middle" class="t" fill="#111111">300</text>
<text x="269.5" y="761.94" text-anchor="middle" class="t" fill="#111111">330</text>
<line x1="198.5" y1="753.2" x2="198.5" y2="987.6" stroke="#3c3c3c"/>
<line x1="194" y1="753.2" x2="198.5" y2="753.2" stroke="#3c3c3c"/>
<text x="190.8" y="756.34" text-anchor="end" class="t" fill="#111111">10</text>
<line x1="195.9" y1="764.92" x2="198.5" y2="764.92" stroke="#3c3c3c"/>
<line x1="194" y1="776.64" x2="198.5" y2="776.64" stroke="#3c3c3c"/>
<text x="190.8" y="779.78" text-anchor="end" class="t" fill="#111111">5</text>
<line x1="195.9" y1="788.36" x2="198.5" y2="788.36" stroke="#3c3c3c"/>
<line x1="194" y1="800.08" x2="198.5" y2="800.08" stroke="#3c3c3c"/>
<text x="190.8" y="803.22" text-anchor="end" class="t" fill="#111111">0</text>
<line x1="195.9" y1="811.8" x2="198.5" y2="811.8" stroke="#3c3c3c"/>
<line x1="194" y1="823.52" x2="198.5" y2="823.52" stroke="#3c3c3c"/>
<text x="190.8" y="826.66" text-anchor="end" class="t" fill="#111111">-5</text>
<line x1="195.9" y1="835.24" x2="198.5" y2="835.24" stroke="#3c3c3c"/>
<line x1="194" y1="846.96" x2="198.5" y2="846.96" stroke="#3c3c3c"/>
<text x="190.8" y="850.1" text-anchor="end" class="t" fill="#111111">-10</text>
<line x1="195.9" y1="858.68" x2="198.5" y2="858.68" stroke="#3c3c3c"/>
<line x1="194" y1="870.4" x2="198.5" y2="870.4" stroke="#3c3c3c"/>
<text x="190.8" y="873.54" text-anchor="end" class="t" fill="#111111">-15</text>
<line x1="195.9" y1="882.12" x2="198.5" y2="882.12" stroke="#3c3c3c"/>
<line x1="194" y1="893.84" x2="198.5" y2="893.84" stroke="#3c3c3c"/>
<text x="190.8" y="896.98" text-anchor="end" class="t" fill="#111111">-10</text>
<line x1="195.9" y1="905.56" x2="198.5" y2="905.56" stroke="#3c3c3c"/>
<line x1="194" y1="917.28" x2="198.5" y2="917.28" stroke="#3c3c3c"/>
<text x="190.8" y="920.42" text-anchor="end" class="t" fill="#111111">-5</text>
<line x1="195.9" y1="929" x2="198.5" y2="929" stroke="#3c3c3c"/>
<line x1="194" y1="940.72" x2="198.5" y2="940.72" stroke="#3c3c3c"/>
<text x="190.8" y="943.86" text-anchor="end" class="t" fill="#111111">0</text>
<line x1="195.9" y1="952.44" x2="198.5" y2="952.44" stroke="#3c3c3c"/>
<line x1="194" y1="964.16" x2="198.5" y2="964.16" stroke="#3c3c3c"/>
<text x="190.8" y="967.3" text-anchor="end" class="t" fill="#111111">5</text>
<line x1="195.9" y1="975.88" x2="198.5" y2="975.88" stroke="#3c3c3c"/>
<line x1="194" y1="987.6" x2="198.5" y2="987.6" stroke="#3c3c3c"/>
<text x="190.8" y="990.74" text-anchor="end" class="t" fill="#111111">10</text>
<text transform="translate(172.7,870.4) rotate(-90)" text-anchor="middle" class="yl">Gain in dB</text>
<line x1="399.4" y1="728.2" x2="423.4" y2="728.2" stroke="#1414f0" stroke-width="2" stroke-dasharray="8.2 7.6"/>
<line x1="399.4" y1="742" x2="427.4" y2="742" stroke="#ff0000" stroke-width="2.0"/>
<text x="429.9" y="731.4" class="lg">H-plane</text>
<text x="429.9" y="745.8" class="lg">E-plane</text>
<text x="305.4" y="1040.4" class="cap">(e) 12.3 GHz</text>
<polygon points="340.3,817.3 344.2,814.2 358,805.6 366.5,801.7 372.4,802.3 379.7,805 384.9,810.2 390.2,819.4 393.5,836.5 394.8,851 397.4,865.4 398.7,879.5 397.4,898.1 392.2,909.9 382.3,919.8 373.1,927 366.5,936.2 358.6,945.4 348.1,952 339.1,954 328.6,952 316.8,945.4 307.6,933.6 301.1,924.3 297.1,919.3 288.5,912.1 285.1,905.4 283.8,897.4 285.8,886.6 288.5,879.9 292.5,871.9 294.5,865.2 296.5,853.1 295.2,843.7 293.2,833 293.2,823.6 293.9,816.8 297.2,808.8 299.9,803.4 308,798.7 312,796 316,797 322.9,799.7 327,801.2 334.2,810.4" stroke="#1414f0" stroke-width="1.9" stroke-dasharray="8.3 7.5" fill="none"/>
<polygon points="339.3,817.6 343.4,842.8 367.2,822 385.6,814.8 400.7,818.1 409.2,829.3 409.2,844.4 400.7,860.1 390.8,870.3 388.9,879.1 399.4,892.2 407,909.9 405.3,925 392.2,932.7 370.5,925.7 362.6,934.2 354.7,954.6 339.8,954.6 327.3,934.9 324,911.7 312.4,916 302.3,914 303.1,900.7 323.4,875.6 307.8,875.6 304.4,870.4 316.5,857.2 332.6,865.1 317.6,843.6 306.7,814.1 313,799.6 326.5,799.7" stroke="#ff0000" stroke-width="2.0" fill="none" stroke-linejoin="round"/>
</g>
</svg>
</body></html>
